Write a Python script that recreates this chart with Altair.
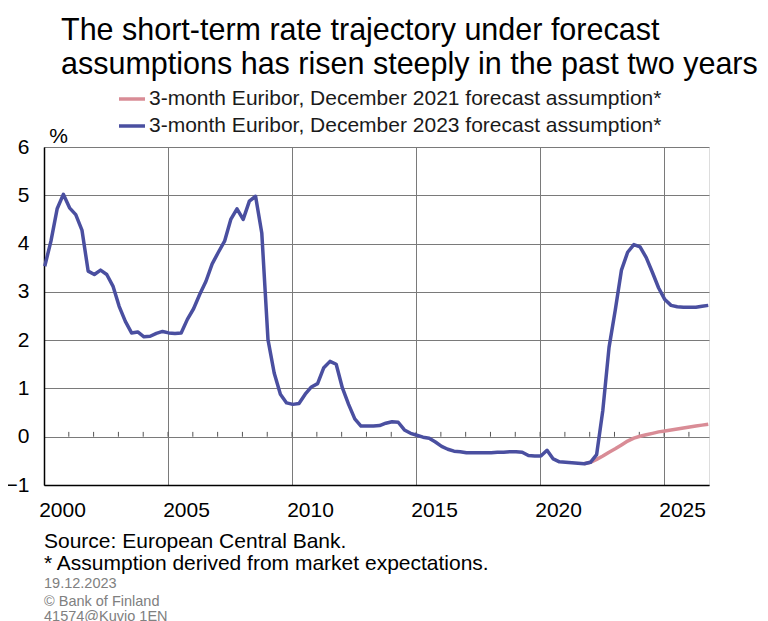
import altair as alt
import pandas as pd

FONT = "Liberation Sans"

TITLE = ["The short-term rate trajectory under forecast",
         "assumptions has risen steeply in the past two years"]
SERIES = ["3-month Euribor, December 2021 forecast assumption*",
          "3-month Euribor, December 2023 forecast assumption*"]
COLORS = ["#D98C96", "#4A4FA0"]

# quarterly values, 2000Q1 .. 2026Q4
blue_start = 2000
blue = [
    3.53, 4.05, 4.72, 5.02,    # 2000
    4.74, 4.60, 4.28, 3.43,    # 2001
    3.36, 3.45, 3.36, 3.12,    # 2002
    2.70, 2.39, 2.15, 2.17,    # 2003
    2.07, 2.08, 2.14, 2.18,    # 2004
    2.15, 2.14, 2.15, 2.43,    # 2005
    2.65, 2.95, 3.22, 3.58,    # 2006
    3.82, 4.05, 4.50, 4.72,    # 2007
    4.50, 4.88, 4.98, 4.22,    # 2008
    2.01, 1.32, 0.88, 0.70,    # 2009
    0.67, 0.69, 0.88, 1.03,    # 2010
    1.10, 1.43, 1.56, 1.50,    # 2011
    1.01, 0.67, 0.37, 0.22,    # 2012
    0.22, 0.22, 0.23, 0.28,    # 2013
    0.31, 0.30, 0.14, 0.07,    # 2014
    0.03, -0.01, -0.03, -0.11,  # 2015
    -0.20, -0.26, -0.30, -0.31,  # 2016
    -0.33, -0.33, -0.33, -0.33,  # 2017
    -0.33, -0.32, -0.32, -0.31,  # 2018
    -0.31, -0.32, -0.39, -0.40,  # 2019
    -0.40, -0.28, -0.46, -0.52,  # 2020
    -0.53, -0.54, -0.55, -0.56,  # 2021
    -0.53, -0.37, 0.55, 1.85,    # 2022
    2.62, 3.45, 3.82, 3.98,      # 2023
    3.93, 3.71, 3.40, 3.08,      # 2024
    2.84, 2.72, 2.69, 2.68,      # 2025
    2.68, 2.68, 2.70, 2.72,      # 2026
]

# December 2021 assumption, 2021Q4 .. 2026Q4
pink_start = 2021.75
pink = [
    -0.56,
    -0.53, -0.47, -0.40, -0.32,  # 2022
    -0.25, -0.17, -0.09, -0.03,  # 2023
    0.01, 0.04, 0.07, 0.10,      # 2024
    0.12, 0.14, 0.16, 0.18,      # 2025
    0.20, 0.22, 0.24, 0.26,      # 2026
]

X_TICKS = [2000, 2005, 2010, 2015, 2020, 2025]
Y_TICKS = [-1, 0, 1, 2, 3, 4, 5, 6]
YEAR_TICKS = list(range(2001, 2027))
X_DOMAIN = [2000, 2026.81]
Y_DOMAIN = [-1, 6]

FOOTER = ["Source: European Central Bank.",
          "* Assumption derived from market expectations."]
NOTES = ["19.12.2023", "\u00a9 Bank of Finland", "41574@Kuvio 1EN"]

rows = []
for i, v in enumerate(pink):
    rows.append({"t": pink_start + i * 0.25 + 0.03, "v": v, "series": SERIES[0]})
for i, v in enumerate(blue):
    rows.append({"t": blue_start + i * 0.25 + 0.03, "v": v, "series": SERIES[1]})
df = pd.DataFrame(rows)

W, H = 665, 338

xscale = alt.Scale(domain=X_DOMAIN, nice=False, zero=False)
yscale = alt.Scale(domain=Y_DOMAIN, nice=False, zero=False)

lines = alt.Chart(df).mark_line(strokeWidth=3.5, strokeJoin="round").encode(
    x=alt.X("t:Q", scale=xscale,
            axis=alt.Axis(values=X_TICKS, format="d", title=None, grid=True,
                          gridColor="#7a7a7a", gridWidth=1, ticks=False, tickSize=0,
                          labelOffset=18, labelPadding=14, labelFontSize=21, labelFont=FONT,
                          labelColor="black", labelFlush=False,
                          domainColor="black", domainWidth=1.5)),
    y=alt.Y("v:Q", scale=yscale,
            axis=alt.Axis(values=Y_TICKS, title="%", titleAngle=0, titleX=14, titleY=-11,
                          titleAlign="center", titleBaseline="middle",
                          titleFontSize=21, titleFont=FONT, titleFontWeight="normal",
                          titleColor="black", grid=True, gridColor="#7a7a7a", gridWidth=1,
                          ticks=False, tickSize=0, labelPadding=15, labelFontSize=21,
                          labelFont=FONT, labelColor="black",
                          domainColor="black", domainWidth=1.5)),
    color=alt.Color("series:N", scale=alt.Scale(domain=SERIES, range=COLORS),
                    legend=alt.Legend(orient="none", legendX=73, legendY=-63, title=None,
                                      symbolType="stroke", symbolSize=676,
                                      symbolStrokeWidth=3.5, labelFontSize=21,
                                      labelFont=FONT, labelColor="#1a1a1a", labelOffset=2,
                                      rowPadding=2, padding=0, labelLimit=800)),
)

ticks = alt.Chart(pd.DataFrame({"t": YEAR_TICKS})).mark_rule(
    color="#555555", strokeWidth=1).encode(
    x=alt.X("t:Q", scale=xscale),
    y=alt.datum(0),
    y2=alt.datum(0.1),
)

def text_layer(txt, y, size, color):
    return alt.Chart(pd.DataFrame({"s": [txt]})).mark_text(
        align="left", baseline="middle", fontSize=size, font=FONT, color=color
    ).encode(text="s:N", x=alt.value(0), y=alt.value(y))

footers = [text_layer(FOOTER[0], 395, 21, "black"),
           text_layer(FOOTER[1], 417, 21, "black"),
           text_layer(NOTES[0], 437, 14.5, "#808080"),
           text_layer(NOTES[1], 455, 14.5, "#808080"),
           text_layer(NOTES[2], 470, 14.5, "#808080")]

chart = alt.layer(ticks, lines, *footers).properties(
    width=W, height=H,
    title=alt.Title(TITLE, anchor="start", frame="group", dx=17, offset=4,
                    fontSize=30.5, font=FONT, fontWeight="normal", lineHeight=34,
                    color="black"),
    autosize=alt.AutoSizeParams(type="none"),
    padding={"left": 36, "top": 139, "right": 51, "bottom": 136},
).configure_view(stroke="#404040", strokeWidth=1).configure(background="white")

chart.save("out.html", embed_options={"renderer": "svg", "actions": False})
